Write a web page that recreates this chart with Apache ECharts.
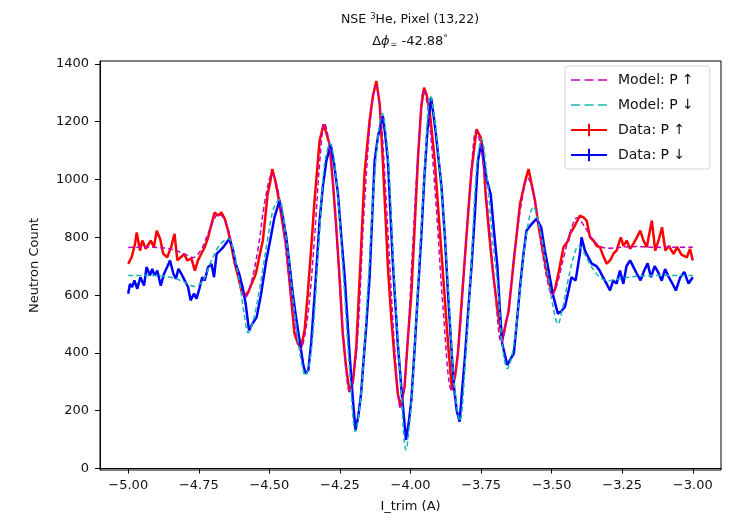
<!DOCTYPE html>
<html>
<head>
<meta charset="utf-8">
<script src="https://cdn.jsdelivr.net/npm/echarts@6/dist/echarts.min.js"></script>
<style>html,body{margin:0;padding:0;background:#fff}#c{width:729px;height:520px}</style>
</head>
<body>
<div id="c"></div>
<script>
// ---- data ----
const xTicks = [-5.00, -4.75, -4.50, -4.25, -4.00, -3.75, -3.50, -3.25, -3.00];
const yTicks = [0, 200, 400, 600, 800, 1000, 1200, 1400];

const dataUp = [[-5.000,708],[-4.988,731],[-4.976,777],[-4.970,817],[-4.958,754],[-4.950,789],[-4.938,760],[-4.920,789],[-4.909,766],[-4.899,823],[-4.887,795],[-4.876,743],[-4.862,731],[-4.848,766],[-4.836,812],[-4.826,720],[-4.814,731],[-4.802,743],[-4.791,720],[-4.776,726],[-4.764,685],[-4.753,720],[-4.741,743],[-4.729,766],[-4.717,800],[-4.705,846],[-4.694,886],[-4.681,875],[-4.670,886],[-4.658,864],[-4.646,823],[-4.634,766],[-4.622,708],[-4.610,662],[-4.599,616],[-4.587,599],[-4.575,610],[-4.563,639],[-4.548,674],[-4.535,735],[-4.523,789],[-4.506,950],[-4.498,985],[-4.490,1036],[-4.480,1000],[-4.470,950],[-4.455,860],[-4.440,766],[-4.425,610],[-4.411,467],[-4.398,430],[-4.387,421],[-4.375,480],[-4.364,605],[-4.352,760],[-4.340,927],[-4.322,1134],[-4.308,1191],[-4.298,1160],[-4.287,1122],[-4.275,990],[-4.263,835],[-4.250,640],[-4.240,467],[-4.228,350],[-4.216,265],[-4.204,300],[-4.192,421],[-4.178,700],[-4.163,1019],[-4.145,1203],[-4.133,1290],[-4.121,1341],[-4.109,1260],[-4.098,1065],[-4.080,697],[-4.068,520],[-4.056,375],[-4.045,260],[-4.035,214],[-4.021,283],[-4.010,440],[-3.997,605],[-3.985,840],[-3.974,1065],[-3.962,1250],[-3.952,1318],[-3.942,1290],[-3.932,1237],[-3.914,1065],[-3.902,900],[-3.890,743],[-3.878,580],[-3.867,432],[-3.853,271],[-3.842,320],[-3.832,398],[-3.820,560],[-3.808,720],[-3.796,880],[-3.784,1030],[-3.766,1174],[-3.751,1145],[-3.743,1100],[-3.734,950],[-3.722,820],[-3.710,697],[-3.692,550],[-3.675,444],[-3.663,500],[-3.652,547],[-3.634,720],[-3.612,915],[-3.595,990],[-3.582,1036],[-3.570,980],[-3.559,927],[-3.545,830],[-3.529,743],[-3.515,670],[-3.500,605],[-3.488,620],[-3.475,680],[-3.458,766],[-3.441,789],[-3.435,812],[-3.418,840],[-3.400,875],[-3.388,870],[-3.376,858],[-3.364,800],[-3.352,789],[-3.340,770],[-3.329,766],[-3.317,735],[-3.305,709],[-3.293,720],[-3.280,745],[-3.270,754],[-3.255,800],[-3.245,770],[-3.234,789],[-3.222,760],[-3.210,778],[-3.198,800],[-3.186,823],[-3.175,790],[-3.163,766],[-3.145,858],[-3.133,754],[-3.121,790],[-3.109,835],[-3.097,754],[-3.085,770],[-3.068,743],[-3.055,766],[-3.040,740],[-3.021,731],[-3.010,760],[-3.000,720]];

const dataDown = [[-5.000,605],[-4.994,639],[-4.986,628],[-4.978,651],[-4.968,622],[-4.957,662],[-4.944,633],[-4.935,697],[-4.923,668],[-4.915,691],[-4.907,668],[-4.897,685],[-4.885,633],[-4.873,674],[-4.862,697],[-4.852,720],[-4.840,674],[-4.831,657],[-4.822,691],[-4.812,674],[-4.800,651],[-4.788,628],[-4.779,582],[-4.767,605],[-4.758,588],[-4.748,622],[-4.738,662],[-4.729,651],[-4.717,697],[-4.705,708],[-4.696,662],[-4.687,743],[-4.675,754],[-4.663,766],[-4.651,783],[-4.642,795],[-4.631,766],[-4.619,708],[-4.607,674],[-4.595,628],[-4.584,570],[-4.572,478],[-4.560,501],[-4.545,524],[-4.530,600],[-4.511,720],[-4.495,800],[-4.482,869],[-4.464,927],[-4.452,870],[-4.440,800],[-4.428,700],[-4.417,605],[-4.405,520],[-4.393,444],[-4.380,360],[-4.372,329],[-4.362,340],[-4.352,432],[-4.336,650],[-4.322,858],[-4.310,980],[-4.298,1065],[-4.283,1122],[-4.270,1050],[-4.257,950],[-4.245,800],[-4.233,662],[-4.216,398],[-4.205,250],[-4.195,133],[-4.185,180],[-4.175,260],[-4.165,390],[-4.157,490],[-4.145,662],[-4.127,1065],[-4.115,1150],[-4.098,1220],[-4.090,1160],[-4.080,1065],[-4.063,720],[-4.045,432],[-4.030,250],[-4.016,99],[-4.006,160],[-3.997,237],[-3.985,420],[-3.974,605],[-3.962,800],[-3.951,1007],[-3.940,1170],[-3.927,1283],[-3.918,1220],[-3.910,1157],[-3.890,973],[-3.878,800],[-3.867,605],[-3.856,430],[-3.846,283],[-3.836,200],[-3.826,162],[-3.818,260],[-3.808,375],[-3.796,540],[-3.784,697],[-3.772,880],[-3.761,1065],[-3.750,1125],[-3.743,1122],[-3.730,1000],[-3.716,950],[-3.704,820],[-3.692,697],[-3.684,560],[-3.675,432],[-3.657,358],[-3.645,380],[-3.634,398],[-3.622,520],[-3.612,628],[-3.600,740],[-3.589,823],[-3.572,845],[-3.554,864],[-3.537,835],[-3.525,760],[-3.513,697],[-3.495,600],[-3.478,536],[-3.465,545],[-3.453,559],[-3.440,616],[-3.430,662],[-3.415,651],[-3.400,743],[-3.394,800],[-3.382,754],[-3.370,731],[-3.358,709],[-3.341,700],[-3.330,685],[-3.318,662],[-3.305,639],[-3.293,616],[-3.282,651],[-3.270,640],[-3.258,685],[-3.246,639],[-3.235,700],[-3.222,720],[-3.210,697],[-3.198,674],[-3.185,651],[-3.172,685],[-3.160,710],[-3.148,662],[-3.135,700],[-3.123,680],[-3.110,650],[-3.098,690],[-3.085,662],[-3.072,640],[-3.060,616],[-3.045,660],[-3.030,680],[-3.015,640],[-3.000,662]];

const modelUp = [[-5.00,765],[-4.95,766],[-4.90,765],[-4.85,760],[-4.80,742],[-4.77,730],[-4.74,760],[-4.71,830],[-4.68,880],[-4.655,855],[-4.63,760],[-4.605,640],[-4.585,592],[-4.565,640],[-4.54,760],[-4.515,930],[-4.49,1020],[-4.465,940],[-4.44,740],[-4.415,530],[-4.39,412],[-4.365,520],[-4.34,800],[-4.32,1080],[-4.305,1195],[-4.285,1100],[-4.26,780],[-4.24,480],[-4.215,262],[-4.19,420],[-4.165,880],[-4.14,1230],[-4.123,1322],[-4.105,1220],[-4.08,820],[-4.055,400],[-4.035,205],[-4.015,360],[-3.995,720],[-3.97,1140],[-3.953,1310],[-3.935,1220],[-3.91,920],[-3.885,560],[-3.855,272],[-3.83,420],[-3.805,760],[-3.785,1020],[-3.768,1168],[-3.75,1110],[-3.725,880],[-3.70,610],[-3.678,435],[-3.655,540],[-3.63,760],[-3.605,930],[-3.585,1005],[-3.56,930],[-3.535,760],[-3.515,650],[-3.498,600],[-3.48,640],[-3.455,740],[-3.43,830],[-3.41,868],[-3.385,840],[-3.36,800],[-3.33,770],[-3.30,762],[-3.25,766],[-3.20,768],[-3.15,766],[-3.10,766],[-3.05,766],[-3.00,766]];

const modelDown = [[-5.00,668],[-4.95,668],[-4.90,667],[-4.85,662],[-4.80,645],[-4.765,630],[-4.735,650],[-4.705,720],[-4.675,775],[-4.645,795],[-4.625,745],[-4.605,640],[-4.59,540],[-4.575,470],[-4.555,520],[-4.53,650],[-4.505,800],[-4.485,900],[-4.465,930],[-4.445,830],[-4.42,620],[-4.395,420],[-4.372,322],[-4.35,420],[-4.325,780],[-4.305,1050],[-4.285,1125],[-4.265,1020],[-4.24,700],[-4.215,330],[-4.195,128],[-4.175,260],[-4.15,640],[-4.125,1040],[-4.10,1228],[-4.08,1080],[-4.06,700],[-4.035,300],[-4.016,65],[-3.997,230],[-3.975,600],[-3.95,1030],[-3.93,1290],[-3.91,1170],[-3.885,900],[-3.865,600],[-3.845,290],[-3.825,165],[-3.805,380],[-3.785,700],[-3.765,1050],[-3.748,1140],[-3.73,1020],[-3.71,800],[-3.69,620],[-3.675,430],[-3.657,345],[-3.635,420],[-3.61,640],[-3.588,820],[-3.565,905],[-3.54,820],[-3.515,680],[-3.495,560],[-3.478,500],[-3.46,560],[-3.44,660],[-3.42,740],[-3.405,770],[-3.385,745],[-3.36,700],[-3.33,662],[-3.30,650],[-3.27,655],[-3.20,665],[-3.10,668],[-3.00,668]];

const names = ['Model: P \u2191', 'Model: P \u2193', 'Data: P \u2191', 'Data: P \u2193'];

// ---- chart ----
const FONT = 'DejaVu Sans';
const chart = echarts.init(document.getElementById('c'), null, {renderer: 'canvas'});
const crossIcon = 'path://M0,5.2L36,5.2L36,7.2L0,7.2Z M17,0L19,0L19,12.4L17,12.4Z';
const dashIcon = 'path://M0,5.4L9,5.4L9,7L0,7Z M13.5,5.4L22.5,5.4L22.5,7L13.5,7Z M27,5.4L36,5.4L36,7L27,7Z M0,0L0.01,0L0.01,12.4L0,12.4Z';
const minus = v => (v < 0 ? '\u2212' : '') + Math.abs(v).toFixed(2);

chart.setOption({
  animation: false,
  backgroundColor: '#fff',
  textStyle: {fontFamily: FONT},
  grid: {left: 100, right: 8, top: 61, bottom: 50, show: true, borderColor: '#000', borderWidth: 1, containLabel: false},
  graphic: [
    {type: 'text', x: 410, y: 20, style: {
      text: '{a|NSE }{s|3}{a|He, Pixel (13,22)}',
      align: 'center', verticalAlign: 'middle',
      rich: {a: {fontFamily: FONT, fontSize: 12.5, fill: '#111'}, s: {fontFamily: FONT, fontSize: 8.5, fill: '#111', padding: [0,0,7,0]}}
    }},
    {type: 'text', x: 410, y: 42, style: {
      text: '{a|\u0394}{i|\u03d5}{e|=}{a| -42.88}{s|\u00b0}',
      align: 'center', verticalAlign: 'middle',
      rich: {a: {fontFamily: FONT, fontSize: 13, fill: '#111'}, i: {fontFamily: FONT, fontSize: 13, fontStyle: 'italic', fill: '#111'}, e: {fontFamily: FONT, fontSize: 8, fill: '#111', padding: [6,0,0,1]}, s: {fontFamily: FONT, fontSize: 9, fill: '#111', padding: [0,0,7,0]}}
    }}
  ],
  legend: {
    orient: 'vertical', left: 565, top: 66,
    padding: [7, 16, 7, 6], itemGap: 11, itemWidth: 36, itemHeight: 12.4,
    backgroundColor: 'rgba(255,255,255,0.85)', borderColor: '#d4d4d4', borderWidth: 1, borderRadius: 3,
    textStyle: {fontFamily: FONT, fontSize: 14, color: '#111', padding: [0, 0, 0, 6]},
    data: [
      {name: names[0], icon: dashIcon}, {name: names[1], icon: dashIcon},
      {name: names[2], icon: crossIcon}, {name: names[3], icon: crossIcon}
    ]
  },
  xAxis: {
    type: 'value', min: -5.1, max: -2.9,
    name: 'I_trim (A)', nameLocation: 'middle', nameGap: 30,
    nameTextStyle: {fontFamily: FONT, fontSize: 13, color: '#111'},
    axisLine: {lineStyle: {color: '#000', width: 1}},
    axisTick: {show: true, inside: false, length: 5, customValues: xTicks, lineStyle: {color: '#000'}},
    axisLabel: {customValues: xTicks, formatter: minus, margin: 9, fontFamily: FONT, fontSize: 13, color: '#111'},
    splitLine: {show: false}
  },
  yAxis: {
    type: 'value', min: -5, max: 1410,
    name: 'Neutron Count', nameLocation: 'middle', nameGap: 59,
    nameTextStyle: {fontFamily: FONT, fontSize: 13, color: '#111'},
    axisLine: {show: true, lineStyle: {color: '#000', width: 1}},
    axisTick: {show: true, inside: false, length: 5, customValues: yTicks, lineStyle: {color: '#000'}},
    axisLabel: {customValues: yTicks, formatter: v => String(v), margin: 11, fontFamily: FONT, fontSize: 13, color: '#111'},
    splitLine: {show: false}
  },
  series: [
    {name: names[2], type: 'line', data: dataUp, symbol: 'none', color: '#ff0000', lineStyle: {color: '#ff0000', width: 2.5}, z: 2},
    {name: names[3], type: 'line', data: dataDown, symbol: 'none', color: '#0000ff', lineStyle: {color: '#0000ff', width: 2.5}, z: 2},
    {name: names[0], type: 'line', data: modelUp, symbol: 'none', smooth: 0.35, color: '#bf00bf', lineStyle: {color: '#bf00bf', width: 1.5, type: [5, 3]}, z: 3},
    {name: names[1], type: 'line', data: modelDown, symbol: 'none', smooth: 0.35, color: '#14b8b0', lineStyle: {color: '#14b8b0', width: 1.5, type: [5, 3]}, z: 3}
  ]
});
</script>
</body>
</html>
